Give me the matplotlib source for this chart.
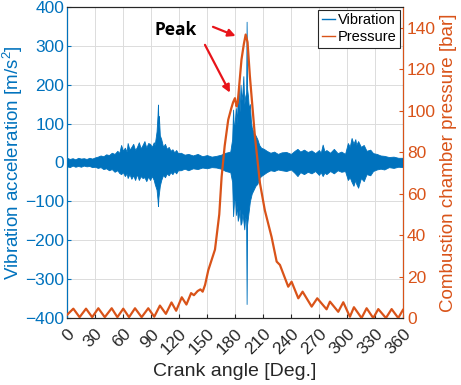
import matplotlib
matplotlib.use('Agg')
import matplotlib.pyplot as plt
from matplotlib.lines import Line2D
import numpy as np

plt.rcParams['font.family'] = ['Liberation Sans', 'DejaVu Sans']
plt.rcParams['mathtext.fontset'] = 'custom'
plt.rcParams['mathtext.rm'] = 'Liberation Sans'
plt.rcParams['mathtext.it'] = 'Liberation Sans'

# vibration envelope: angle [deg], upper / lower [m/s^2]
vib_angle = [0, 3, 6, 9, 12, 15, 18, 21, 24, 27, 30, 33, 36, 39, 42, 45, 48, 51, 54, 56,
             58, 60, 62, 64, 65, 67, 69, 71, 73, 75, 77, 79, 81, 83, 85, 87, 89, 91, 93, 94,
             96, 97, 97.5, 98, 98.5, 99.5, 101, 103, 105, 107, 109, 111, 113, 115, 117, 119,
             122, 126, 130, 135, 140, 145, 150, 155, 160, 165, 170, 175, 177, 178, 179, 180,
             181, 182, 183, 184, 185, 186, 187, 188, 189, 190, 191, 192, 192.5, 193, 194, 195,
             196, 197, 198, 200, 202, 204, 206, 208, 211, 214, 218, 222, 226, 230, 235, 240,
             244, 247, 250, 254, 258, 262, 266, 270, 272, 274, 276, 278, 282, 286, 290, 294,
             298, 301, 303, 305, 307, 309, 310, 312, 315, 318, 321, 325, 328, 332, 336, 340,
             345, 350, 355, 360]
vib_upper = [12, 9, 11, 8, 12, 10, 11, 9, 12, 10, 13, 15, 18, 16, 21, 19, 25, 22, 30, 24,
             45, 30, 38, 28, 50, 33, 40, 48, 32, 40, 52, 36, 45, 55, 38, 50, 48, 40, 52, 45,
             80, 120, 149, 100, 119, 70, 60, 40, 48, 35, 40, 30, 34, 26, 32, 24,
             25, 20, 22, 18, 22, 16, 19, 15, 17, 20, 25, 28, 60, 136, 80, 110,
             140, 100, 170, 190, 130, 200, 160, 180, 222, 150, 170, 180, 362, 190, 170, 136,
             150, 110, 90, 77, 70, 60, 45, 38, 35, 30, 25, 28, 22, 26, 27, 22,
             30, 35, 28, 33, 27, 31, 24, 32, 25, 46, 28, 32, 25, 35, 24, 28,
             22, 50, 40, 63, 48, 60, 45, 55, 40, 45, 30, 33, 24, 22, 18, 17,
             14, 15, 12, 12]
vib_lower = [-10, -12, -8, -11, -9, -11, -8, -10, -9, -12, -11, -14, -12, -17, -15, -20, -17, -24, -20, -27,
             -30, -25, -35, -28, -40, -30, -42, -33, -45, -30, -45, -35, -40, -38, -48, -36, -45, -35, -45, -55,
             -70, -95, -112, -90, -80, -60, -45, -32, -38, -28, -33, -25, -30, -22, -28, -20,
             -20, -16, -20, -15, -17, -13, -15, -12, -13, -16, -22, -25, -50, -138, -100, -90,
             -135, -110, -150, -140, -120, -160, -155, -130, -150, -172, -140, -150, -364, -160, -140, -120,
             -100, -90, -80, -70, -60, -55, -40, -35, -30, -25, -20, -22, -18, -20, -22, -18,
             -27, -35, -25, -30, -24, -28, -22, -32, -25, -35, -26, -30, -22, -28, -20, -24,
             -22, -45, -38, -50, -60, -45, -55, -65, -40, -48, -30, -33, -22, -18, -16, -18,
             -12, -14, -11, -12]

# combustion chamber pressure: angle [deg], pressure [bar]
p_angle = [0, 6.8, 13.5, 20.4, 27, 33.6, 40.5, 47.9, 54, 60.3, 66.5, 72.9, 80, 87.1, 93.5,
           99.6, 106, 112, 117, 123, 128, 133, 136, 140, 143, 145.4, 148, 151.4,
           155, 158.6, 163.2, 165.7, 169, 172.8, 176, 178, 180, 181.8, 183, 187, 189.5,
           191.5, 193.5, 196, 201.4, 206.8, 212, 219.3, 224.7, 228.2, 237.1, 240.7, 247.9,
           252.5, 262.2, 268.2, 278.2, 281.8, 290.7, 296.1, 303.2, 307.5, 315.7, 321.1,
           328.2, 333.6, 341.8, 347.9, 355, 360]
p_bar = [1.5, 4.5, 0.4, 4.5, 0.4, 4.7, 0.4, 4.7, 0.4, 4.5, 0.4, 4.7, 0.4, 4.7, 0.6,
         6.0, 2.0, 7.5, 3.5, 10.0, 6.5, 12.0, 11.0, 13.0, 13.8, 12.7, 16.0, 23.0,
         28.0, 33.0, 50.0, 68.0, 83.0, 95.6, 101.0, 104.0, 106.0, 102.0, 104.0, 124.6, 132.0,
         136.7, 133.0, 116.6, 87.6, 65.0, 52.0, 39.0, 27.2, 25.6, 15.1, 17.5, 9.5,
         12.7, 5.5, 9.5, 4.2, 7.9, 3.0, 7.6, 0.6, 5.2, 0.0, 4.7,
         0.0, 4.3, 0.0, 4.3, 0.0, 3.9]

blue = '#0072BD'
orange = '#D95319'
dark = '#262626'

fig = plt.figure(figsize=(4.61, 3.85), dpi=100)
ax = fig.add_axes([0.1453, 0.174, 0.7287, 0.808])
ax2 = ax.twinx()

ax.fill_between(vib_angle, vib_lower, vib_upper, color=blue, lw=0.6, zorder=2)
ax2.plot(p_angle, p_bar, color=orange, lw=1.6, zorder=3)

ax.set_xlim(0, 360)
ax.set_ylim(-400, 400)
ax2.set_ylim(0, 150)
ax.set_xticks(np.arange(0, 361, 30))
ax.set_yticks(np.arange(-400, 401, 100))
ax2.set_yticks(np.arange(0, 141, 20))
ax.grid(True, color='#dcdcdc', lw=0.7)
ax.set_axisbelow(True)

ax.tick_params(axis='x', direction='in', length=3, labelsize=12.5, colors=dark,
               labelrotation=45, pad=6)
for lab in ax.get_xticklabels():
    lab.set_ha('right')
    lab.set_rotation_mode('anchor')
ax.tick_params(axis='y', direction='in', length=3, labelsize=12.5, colors=blue, pad=2)
ax2.tick_params(axis='y', direction='in', length=3, labelsize=12.5, colors=orange, pad=3)

for s in ['top', 'bottom']:
    ax.spines[s].set_color(dark)
    ax2.spines[s].set_color(dark)
ax2.spines['left'].set_color(blue)
ax2.spines['right'].set_color(orange)
for s in ax2.spines.values():
    s.set_linewidth(0.8)

ax.set_xlabel('Crank angle [Deg.]', fontsize=14, color=dark, labelpad=4)
ax.set_ylabel('Vibration acceleration [m/s$^2$]', fontsize=13.5, color=blue, labelpad=0)
ax2.set_ylabel('Combustion chamber pressure [bar]', fontsize=13.5, color=orange, labelpad=3)

handles = [Line2D([], [], color=blue, lw=1), Line2D([], [], color=orange, lw=1)]
leg = ax2.legend(handles, ['Vibration', 'Pressure'], loc='upper right', fontsize=10.5,
                 handlelength=0.9, handletextpad=0.2, borderpad=0.25, labelspacing=0.2,
                 borderaxespad=0.2, fancybox=False, framealpha=1)
leg.get_frame().set_edgecolor(dark)
leg.get_frame().set_linewidth(0.8)

red = '#E8141A'
ax2.text(116.8, 139, 'Peak', fontsize=12.5, fontweight='bold', family='Open Sans',
         ha='center', va='center', color='black')
ax2.annotate('', xy=(183.5, 135.5), xytext=(153.7, 140.9),
             arrowprops=dict(arrowstyle='-|>', color=red, lw=1.6, mutation_scale=11))
ax2.annotate('', xy=(176, 107.5), xytext=(146.5, 132.9),
             arrowprops=dict(arrowstyle='-|>', color=red, lw=1.6, mutation_scale=11))

fig.savefig('out.png', dpi=100)
